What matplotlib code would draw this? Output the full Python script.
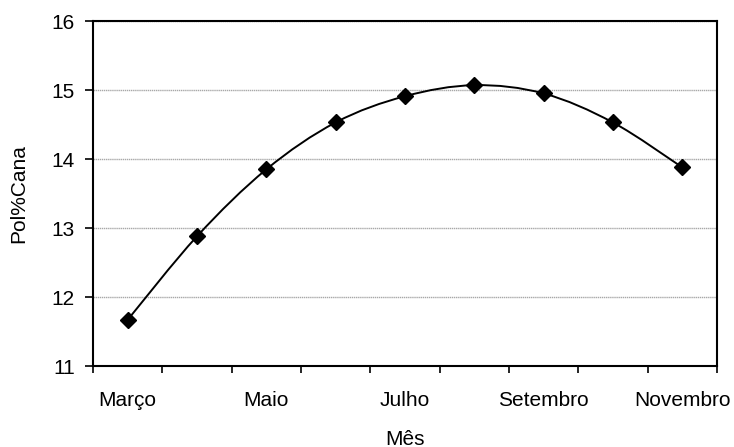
import numpy as np
import matplotlib.pyplot as plt
from matplotlib.path import Path
from matplotlib.patches import PathPatch

plt.rcParams['font.family'] = ['Liberation Sans', 'DejaVu Sans']

months = ['Março', 'Abril', 'Maio', 'Junho', 'Julho', 'Agosto',
          'Setembro', 'Outubro', 'Novembro']
pol_cana = [11.67, 12.88, 13.85, 14.53, 14.91, 15.07, 14.95, 14.53, 13.88]


def smooth_path(xs, ys):
    # Bezier segments through the points (Catmull-Rom style, like Excel smoothing)
    pts = np.column_stack([xs, ys])
    n = len(pts)
    verts = [pts[0]]
    codes = [Path.MOVETO]
    for i in range(n - 1):
        p0 = pts[i - 1] if i > 0 else pts[i]
        p1 = pts[i]
        p2 = pts[i + 1]
        p3 = pts[i + 2] if i + 2 < n else pts[i + 1]
        c1 = p1 + (p2 - p0) / 6.0
        c2 = p2 - (p3 - p1) / 6.0
        verts += [c1, c2, p2]
        codes += [Path.CURVE4] * 3
    return Path(verts, codes)


fig = plt.figure(figsize=(7.34, 4.47), dpi=100)
ax = fig.add_axes([0.1267, 0.181, 0.85, 0.772])

x = np.arange(len(months))
ax.add_patch(PathPatch(smooth_path(x, pol_cana), facecolor='none',
                       edgecolor='black', linewidth=1.4, zorder=3))
ax.plot(x, pol_cana, linestyle='none', marker='D', markersize=8.5,
        color='black', zorder=4)

ax.set_xlim(-0.5, len(months) - 0.5)
ax.set_ylim(11, 16)
ax.set_yticks([11, 12, 13, 14, 15, 16])
ax.yaxis.grid(True, color='#a8a8a8', linewidth=1.0, linestyle=(0, (1, 0.5)))
ax.set_axisbelow(True)

# labels on every other month, tick marks between categories
ax.set_xticks(x[::2])
ax.set_xticklabels(months[::2])
ax.set_xticks(np.arange(-0.5, len(months), 1.0), minor=True)
ax.tick_params(axis='x', which='major', length=0, pad=18, labelsize=15)
ax.tick_params(axis='x', which='minor', length=5, width=1.2, direction='out')
ax.tick_params(axis='y', length=6, width=1.2, labelsize=15, pad=7)

for s in ax.spines.values():
    s.set_linewidth(1.5)

ax.set_xlabel('Mês', fontsize=15, labelpad=14)
ax.set_ylabel('Pol%Cana', fontsize=15, labelpad=17)

fig.savefig('out.png', dpi=100)
